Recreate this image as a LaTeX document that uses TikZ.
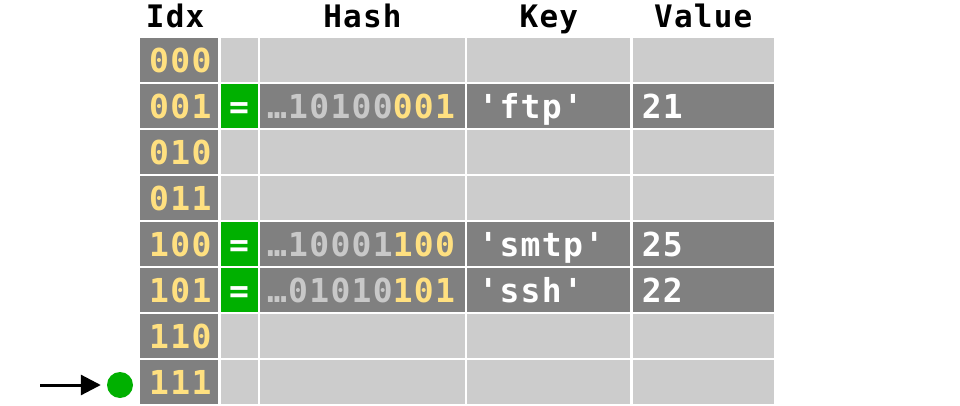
\documentclass[tikz,border=0pt]{standalone}
\usepackage{fontspec}
\setmonofont[LetterSpace=4]{DejaVu Sans Mono}
\usetikzlibrary{positioning, arrows.meta}

\definecolor{darkcell}{RGB}{128,128,128}
\definecolor{lightcell}{RGB}{204,204,204}
\definecolor{okgreen}{RGB}{0,176,0}
\definecolor{bityellow}{RGB}{255,224,128}
\definecolor{bitgray}{RGB}{200,200,200}

\tikzset{
  cell/.style={inner xsep=9pt, inner ysep=0pt, minimum height=44pt,
    text height=24pt, text depth=0pt, align=left, text=white,
    font=\fontsize{33}{38}\selectfont\ttfamily\bfseries},
  head/.style={inner sep=0pt, text depth=0pt,
    font=\fontsize{31}{36}\selectfont\ttfamily\bfseries},
  dot/.style={circle, fill=okgreen, minimum size=26pt, inner sep=0pt},
  pointer/.style={line width=3pt, -{Triangle[length=20pt,width=20pt]}, shorten >=6pt}
}

\begin{document}
\begin{tikzpicture}[x=1pt, y=1pt]
\useasboundingbox (0,0) rectangle (960,-406);
% rows of the table
\foreach \i/\idx/\rowc/\eqc/\eqt/\pre/\suf/\key/\val in {
  0/000/lightcell/lightcell/{}/{}/{}/{}/{},
  1/001/darkcell/okgreen/=/…10100/001/'ftp'/21,
  2/010/lightcell/lightcell/{}/{}/{}/{}/{},
  3/011/lightcell/lightcell/{}/{}/{}/{}/{},
  4/100/darkcell/okgreen/=/…10001/100/'smtp'/25,
  5/101/darkcell/okgreen/=/…01010/101/'ssh'/22,
  6/110/lightcell/lightcell/{}/{}/{}/{}/{},
  7/111/lightcell/lightcell/{}/{}/{}/{}/{}}
{
  \node[cell, anchor=north west, fill=darkcell, text=bityellow, text width=60pt]
    (\i-idx) at (140,{-38-46*\i}) {\idx};
  \node[cell, fill=\eqc, inner xsep=0pt, text width=37pt, align=center, right=2pt of \i-idx]
    (\i-eq) {\eqt};
  \node[cell, fill=\rowc, inner xsep=7pt, text width=191pt, right=2pt of \i-eq]
    (\i-hash) {\textcolor{bitgray}{\pre}\textcolor{bityellow}{\suf}};
  \node[cell, fill=\rowc, inner xsep=11pt, text width=141pt, right=2pt of \i-hash] (\i-key) {\key};
  \node[cell, fill=\rowc, text width=123pt, right=2pt of \i-key] (\i-val) {\val};
}
% column heads
\node[head, above=10pt of 0-idx, xshift=-4pt] (h-idx) {Idx};
\node[head, above=10pt of 0-hash] (h-hash) {Hash};
\node[head, above=10pt of 0-key] (h-key) {Key};
\node[head, above=10pt of 0-val] (h-val) {Value};
% pointer to the free slot
\coordinate (tail) at (40,-385);
\node[dot] (ptr) at (120,-385) {};
\draw[pointer] (tail) -- (ptr.west);
\end{tikzpicture}
\end{document}
